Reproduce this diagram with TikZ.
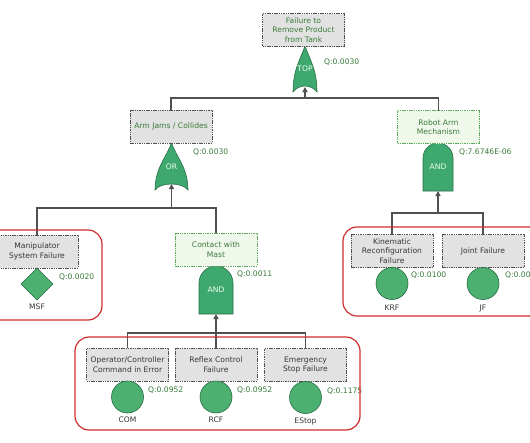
\documentclass[tikz,border=0pt]{standalone}
\usepackage{fontspec}
\setmainfont{DejaVu Sans}
\usetikzlibrary{positioning,shapes.geometric,arrows.meta,backgrounds}
\usepackage{xcolor}

\definecolor{boxgray}{RGB}{226,226,226}
\definecolor{boxline}{RGB}{80,80,80}
\definecolor{palegreen}{RGB}{240,248,236}
\definecolor{greenline}{RGB}{96,170,96}
\definecolor{qgreen}{RGB}{56,122,56}
\definecolor{darktext}{RGB}{55,55,55}
\definecolor{gatefill}{RGB}{62,168,110}
\definecolor{gateline}{RGB}{40,110,70}
\definecolor{eventfill}{RGB}{76,176,112}
\definecolor{linkgray}{RGB}{80,80,80}
\definecolor{groupred}{RGB}{208,44,44}

\tikzset{
  txt/.style={font=\fontsize{7.6}{9.5}\selectfont},
  midgray/.style={txt, draw=boxline, dash pattern=on 1.5pt off 0.8pt, fill=boxgray, text=qgreen,
    minimum width=82pt, minimum height=33pt, inner sep=1pt, outer sep=0pt, align=center},
  midgreen/.style={midgray, draw=greenline, fill=palegreen},
  basebox/.style={midgray, text=darktext},
  gatenode/.style={txt, text=white!92!green, inner sep=0pt, outer sep=0pt},
  gatebody/.style={fill=gatefill, draw=gateline, line width=0.6pt},
  basic/.style={circle, fill=eventfill, draw=gateline, line width=0.6pt, minimum size=32pt, inner sep=0pt, outer sep=0pt},
  undev/.style={diamond, fill=eventfill, draw=gateline, line width=0.6pt, minimum size=32pt, inner sep=0pt, outer sep=0pt},
  evlabel/.style={txt, text=darktext, inner sep=1pt},
  qval/.style={txt, text=qgreen, anchor=west, inner sep=0pt},
  link/.style={draw=linkgray, line width=1.2pt},
  group/.style={draw=groupred, line width=1.2pt, rounded corners=14pt}
}

% gate outlines drawn from the anchors of an (invisible) gate node
\newcommand{\drawor}[1]{%
  \path[gatebody] (#1.south west)
    .. controls ([yshift=22pt]#1.south west) and ([xshift=-5pt,yshift=-14pt]#1.north) .. (#1.north)
    .. controls ([xshift=5pt,yshift=-14pt]#1.north) and ([yshift=22pt]#1.south east) .. (#1.south east)
    .. controls ([xshift=-6pt,yshift=8pt]#1.south east) and ([xshift=6pt,yshift=8pt]#1.south west) .. (#1.south west) -- cycle;}
\newcommand{\drawand}[2]{%
  \path[gatebody] (#1.south west) -- ([yshift=-#2]#1.north west)
    arc[start angle=180, end angle=0, radius=#2] -- (#1.south east) -- cycle;}

\begin{document}
\begin{tikzpicture}[x=1pt, y=-1pt, >={Triangle[length=5pt,width=5pt]}]
  \useasboundingbox (0,0) rectangle (530,442);

  % intermediate events
  \node [midgray] (tank) at (303.5,30) {Failure to\\Remove Product\\from Tank};
  \node [midgray] (jams) at (171,126.5) {Arm Jams / Collides};
  \node [midgreen] (robot) at (438.5,127) {Robot Arm\\Mechanism};
  \node [midgreen] (mast) at (216,249.5) {Contact with\\Mast};

  % gates
  \node [gatenode, minimum width=24pt, minimum height=46pt] (gtop) at (305,69) {TOP};
  \node [gatenode, minimum width=33pt, minimum height=47pt] (gjams) at (171.5,166.5) {OR};
  \node [gatenode, minimum width=30pt, minimum height=48pt] (grobot) at (438,167) {AND};
  \node [gatenode, minimum width=34pt, minimum height=48pt] (gmast) at (216,290) {AND};
  \begin{scope}[on background layer]
    \drawor{gtop}
    \drawor{gjams}
    \drawand{grobot}{15pt}
    \drawand{gmast}{17pt}
  \end{scope}

  % basic events
  \node [basebox] (manip) at (37,251.5) {Manipulator\\System Failure};
  \node [basebox] (kin) at (392,251) {Kinematic\\Reconfiguration\\Failure};
  \node [basebox] (joint) at (483,251) {Joint Failure};
  \node [basebox] (oper) at (127.5,364.5) {Operator/Controller\\Command in Error};
  \node [basebox] (reflex) at (216,364.5) {Reflex Control\\Failure};
  \node [basebox] (estop) at (305.5,365) {Emergency\\Stop Failure};

  \node [undev, below=0pt of manip] (msf) {};
  \node [basic, below=0pt of kin] (krf) {};
  \node [basic, below=0pt of joint] (jf) {};
  \node [basic, below=0pt of oper] (com) {};
  \node [basic, below=0pt of reflex] (rcf) {};
  \node [basic, below=0pt of estop] (estopev) {};

  \node [evlabel, below=3pt of msf] (msflab) {MSF};
  \node [evlabel, below=4pt of krf] (krflab) {KRF};
  \node [evlabel, below=4pt of jf] (jflab) {JF};
  \node [evlabel, below=3pt of com] (comlab) {COM};
  \node [evlabel, below=3pt of rcf] (rcflab) {RCF};
  \node [evlabel, below=3pt of estopev] (estoplab) {EStop};

  % probabilities
  \node [qval] (qtop) at (324,62) {Q:0.0030};
  \node [qval] (qjams) at (193,152) {Q:0.0030};
  \node [qval] (qrobot) at (459,152) {Q:7.6746E-06};
  \node [qval] (qmast) at (237,274) {Q:0.0011};
  \node [qval] (qmsf) at (59,277) {Q:0.0020};
  \node [qval] (qkrf) at (411,275) {Q:0.0100};
  \node [qval] (qjf) at (505,275) {Q:0.00};
  \node [qval] (qcom) at (148,390) {Q:0.0952};
  \node [qval] (qrcf) at (237,390) {Q:0.0952};
  \node [qval] (qestop) at (327,391) {Q:0.1175};

  % connectors
  \coordinate (jtop) at (305,98);
  \coordinate (jjams) at (171.5,208);
  \coordinate (jrobot) at (438,213);
  \coordinate (jmast) at (216,333);

  \draw [link] (jams.north) |- (jtop) -| (robot.north);
  \draw [link, ->] (jtop) -- ([yshift=5pt]gtop.south);
  \draw [link] (manip.north) |- (jjams) -| (mast.north);
  \draw [link, ->] (jjams) -- ([yshift=6pt]gjams.south);
  \draw [link] (kin.north) |- (jrobot) -| (joint.north);
  \draw [link, ->] (jrobot) -- (grobot.south);
  \draw [link] (oper.north) |- (jmast) -| (estop.north);
  \draw [link] (reflex.north) -- (jmast);
  \draw [link, ->] (jmast) -- (gmast.south);

  % event groups
  \draw [group] (-15,230) rectangle (102,320);
  \draw [group] (343,227) rectangle (545,316);
  \draw [group] (75,337) rectangle (360,430);
\end{tikzpicture}
\end{document}
